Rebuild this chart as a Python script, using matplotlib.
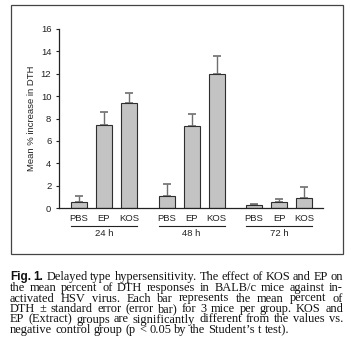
import matplotlib
matplotlib.use('Agg')
import numpy as np
import matplotlib.pyplot as plt
import matplotlib.transforms as mtransforms
from matplotlib.patches import Rectangle

# data
groups = ['24 h', '48 h', '72 h']
treatments = ['PBS', 'EP', 'KOS']
mean_24 = [0.55, 7.45, 9.35]
err_24 = [0.5, 1.15, 0.95]
mean_48 = [1.05, 7.35, 12.0]
err_48 = [1.1, 1.05, 1.6]
mean_72 = [0.27, 0.5, 0.92]
err_72 = [0.12, 0.3, 0.93]

caption_lines = [
    ['Fig.', '1.', 'Delayed', 'type', 'hypersensitivity.', 'The', 'effect', 'of', 'KOS', 'and', 'EP', 'on'],
    'the mean percent of DTH responses in BALB/c mice against in-'.split(),
    'activated HSV virus. Each bar represents the mean percent of'.split(),
    'DTH \u00b1 standard error (error bar) for 3 mice per group. KOS and'.split(),
    'EP (Extract) groups are significantly different from the values vs.'.split(),
    'negative control group (p < 0.05 by the Student\u2019s t test).'.split(),
]

W, H = 351, 362
fig = plt.figure(figsize=(W / 100, H / 100), dpi=100)
fig.patch.set_facecolor('white')

def fx(px):
    return px / W

def fy(py):
    return 1 - py / H

sans = 'Liberation Sans'
serif = 'Liberation Serif'

# frame around the chart
fig.add_artist(Rectangle((fx(11), fy(254)), fx(343) - fx(11), fy(5) - fy(254),
                         transform=fig.transFigure, fill=False, edgecolor='#444444', lw=0.9))

ax = fig.add_axes([fx(59), fy(208), fx(323) - fx(59), fy(29) - fy(208)])

means = [mean_24, mean_48, mean_72]
errs = [err_24, err_48, err_72]
width = 0.64
xs, labels = [], []
for g in range(3):
    x = g * 3.5 + np.arange(3)
    ax.errorbar(x, means[g], yerr=[np.zeros(3), errs[g]], fmt='none', ecolor='#6e6e6e',
                elinewidth=1.0, capsize=3, capthick=1.2, zorder=1)
    ax.bar(x, means[g], width=width, color='#c3c3c3', edgecolor='#2e2e2e', linewidth=0.8, zorder=2)
    xs.extend(x)
    labels.extend(treatments)

ax.set_xlim(-0.8, 9.76)
ax.set_ylim(0, 16)
ax.set_yticks(range(0, 17, 2))
ax.set_xticks(xs)
ax.set_xticklabels(labels, fontsize=6.8, family=sans, color='#222222')
ax.tick_params(axis='x', length=0, pad=4)
ax.tick_params(axis='y', length=2.5, width=0.8, pad=3, labelsize=6.8, colors='#222222')
for lab in ax.get_yticklabels():
    lab.set_family(sans)
for s in ['top', 'right']:
    ax.spines[s].set_visible(False)
for s in ['left', 'bottom']:
    ax.spines[s].set_linewidth(0.9)
    ax.spines[s].set_color('#222222')
ax.set_ylabel('Mean % increase in DTH', fontsize=6.8, family=sans, color='#222222', labelpad=3.5)

# group brackets
trans = mtransforms.blended_transform_factory(ax.transData, ax.transAxes)
for g in range(3):
    x0 = g * 3.5 - width / 2
    x1 = g * 3.5 + 2 + width / 2
    ax.plot([x0, x1], [-0.1, -0.1], color='#222222', lw=0.8, transform=trans, clip_on=False)
    ax.text((x0 + x1) / 2, -0.14, groups[g], transform=trans, ha='center', va='center',
            fontsize=6.8, family=sans, color='#222222')

# caption, justified between left and right edges
renderer = fig.canvas.get_renderer()
left, right = 10, 343
baselines = [280, 291, 301.5, 312, 322.5, 333]

def text_w(s, size, **kw):
    t = fig.text(0, 0, s, fontsize=size, **kw)
    w = t.get_window_extent(renderer).width
    t.remove()
    return w

# largest size at which every justified line still fits with normal spaces
need = max(text_w(' '.join(ws), 10, family=serif) for ws in caption_lines[:5])
fs = 10 * (right - left) / need

for i, words in enumerate(caption_lines):
    arts = []
    for j, w in enumerate(words):
        if i == 0 and j < 2:
            t = fig.text(0, fy(baselines[i]), w, fontsize=fs * 0.95, family=sans,
                         weight='bold', va='baseline', color='#111111')
        else:
            t = fig.text(0, fy(baselines[i]), w, fontsize=fs, family=serif,
                         va='baseline', color='#111111')
        arts.append(t)
    widths = [a.get_window_extent(renderer).width for a in arts]
    if i < len(caption_lines) - 1:
        gap = (right - left - sum(widths)) / (len(words) - 1)
    else:
        gap = text_w('a a', fs, family=serif) - text_w('aa', fs, family=serif)
    x = left
    for a, w in zip(arts, widths):
        a.set_x(fx(x))
        x += w + gap

fig.savefig('out.png', dpi=100)
